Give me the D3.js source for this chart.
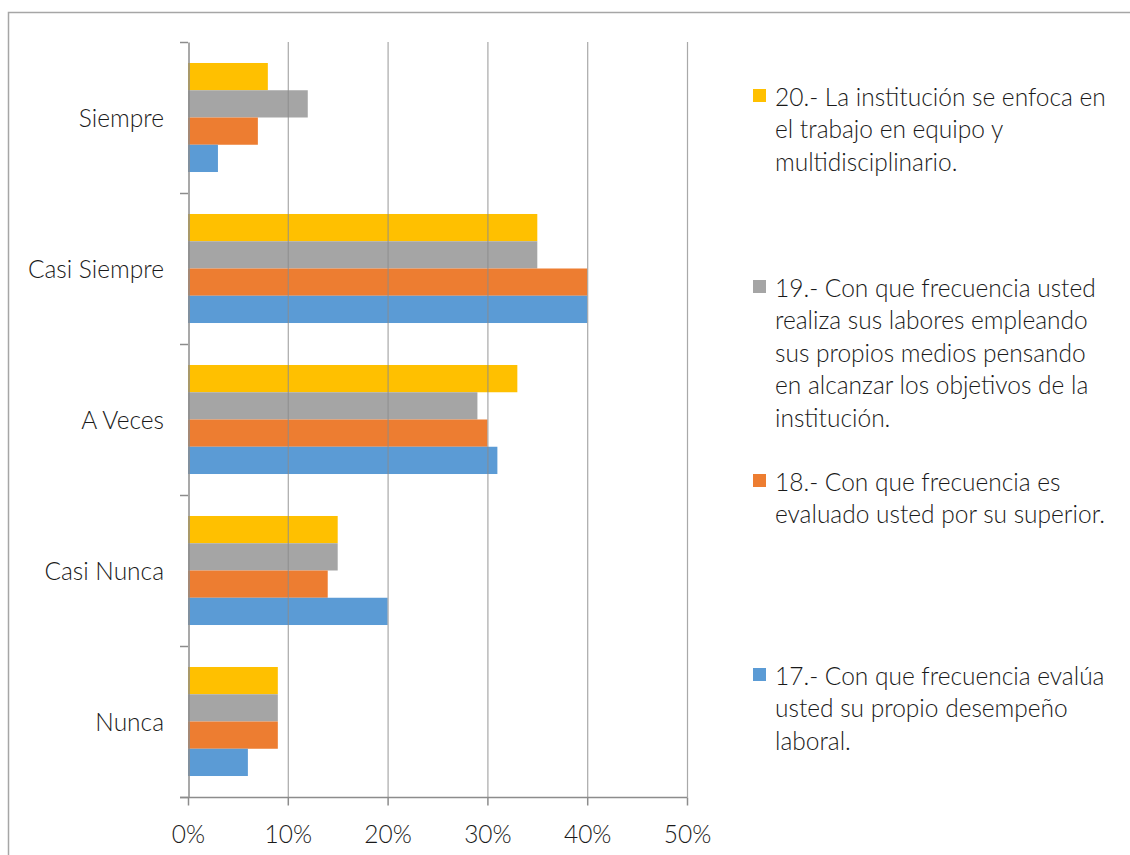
<!DOCTYPE html>
<html>
<head>
<meta charset="utf-8">
<script src="https://cdn.jsdelivr.net/npm/d3@7"></script>
<style>
  html, body { margin: 0; padding: 0; background: #fff; }
  svg { display: block; font-family: Lato, "Open Sans", sans-serif; font-weight: 300; }
</style>
</head>
<body>
<svg id="chart" width="1130" height="855"></svg>
<script>
// Response categories, from top to bottom
const categories = ["Siempre", "Casi Siempre", "A Veces", "Casi Nunca", "Nunca"];

// Survey questions (drawn top to bottom inside each category)
const seriesKeys = ["q20", "q19", "q18", "q17"];
const seriesLabels = [
  ["20.- La institución se enfoca en", "el trabajo en equipo y", "multidisciplinario."],
  ["19.- Con que frecuencia usted", "realiza sus labores empleando", "sus propios medios pensando", "en alcanzar los objetivos de la", "institución."],
  ["18.- Con que frecuencia es", "evaluado usted por su superior."],
  ["17.- Con que frecuencia evalúa", "usted su propio desempeño", "laboral."]
];
const seriesColors = ["#FFC000", "#A5A5A5", "#ED7D31", "#5B9BD5"];

// Percentages per category, one array per question
const q20 = [8, 35, 33, 15, 9];
const q19 = [12, 35, 29, 15, 9];
const q18 = [7, 40, 30, 14, 9];
const q17 = [3, 40, 31, 20, 6];

const xTicks = [0, 10, 20, 30, 40, 50];

const seriesValues = { q20, q19, q18, q17 };
const rows = categories.map((c, i) => ({
  category: c,
  values: seriesKeys.map(k => ({ key: k, value: seriesValues[k][i] }))
}));

const FONT_SIZE = 24.5;
const TEXT_COLOR = "#1a1a1a";

const svg = d3.select("#chart");
const color = d3.scaleOrdinal().domain(seriesKeys).range(seriesColors);

// Outer frame
svg.append("path")
  .attr("d", "M8.5,855 L8.5,12.5 L1130,12.5")
  .attr("fill", "none")
  .attr("stroke", "#a6a6a6")
  .attr("stroke-width", 1.5);

const plot = { left: 188, right: 687, top: 42, bottom: 797 };

const x = d3.scaleLinear().domain([0, 50]).range([plot.left, plot.right]);
const y = d3.scaleBand().domain(categories).range([plot.top, plot.bottom]).paddingInner(0.278).paddingOuter(0.139);
const yBand = d3.scaleBand().domain(categories).range([plot.top, plot.bottom]);
const ySub = d3.scaleBand().domain(seriesKeys).range([0, y.bandwidth()]);

// Bars
const groups = svg.append("g").selectAll("g")
  .data(rows).join("g")
  .attr("transform", d => `translate(0,${y(d.category)})`);

groups.selectAll("rect")
  .data(d => d.values).join("rect")
  .attr("x", x(0))
  .attr("y", d => ySub(d.key))
  .attr("width", d => x(d.value) - x(0))
  .attr("height", ySub.bandwidth())
  .attr("fill", d => color(d.key));

// Vertical gridlines (drawn over the bars, softly)
svg.append("g").selectAll("line")
  .data(xTicks.slice(1)).join("line")
  .attr("x1", d => x(d) + 0.5).attr("x2", d => x(d) + 0.5)
  .attr("y1", plot.top).attr("y2", plot.bottom)
  .attr("stroke", "#8c8c8c")
  .attr("stroke-opacity", 0.75)
  .attr("stroke-width", 1.2);

// Category axis
const yAxis = svg.append("g")
  .attr("transform", `translate(${plot.left + 0.5},0)`)
  .call(d3.axisLeft(yBand).tickSize(0).tickFormat(""));
yAxis.select(".domain").attr("stroke", "#8c8c8c").attr("stroke-width", 1.5);
const boundaries = categories.map(c => yBand(c)).concat([plot.bottom]);
svg.append("g").selectAll("line")
  .data(boundaries).join("line")
  .attr("x1", plot.left - 8).attr("x2", plot.left)
  .attr("y1", d => d + 0.5).attr("y2", d => d + 0.5)
  .attr("stroke", "#8c8c8c").attr("stroke-width", 1.5);

svg.append("g").selectAll("text")
  .data(categories).join("text")
  .attr("x", 164)
  .attr("y", d => yBand(d) + yBand.bandwidth() / 2)
  .attr("text-anchor", "end")
  .attr("dominant-baseline", "central")
  .attr("font-size", FONT_SIZE)
  .attr("fill", TEXT_COLOR)
  .text(d => d);

// Value axis
const xAxis = svg.append("g")
  .attr("transform", `translate(0,${plot.bottom + 0.5})`)
  .call(d3.axisBottom(x).tickValues(xTicks).tickSize(8).tickFormat(d => d + "%"));
xAxis.select(".domain").attr("d", `M${plot.left - 8},0H${plot.right + 0.5}`).attr("stroke", "#8c8c8c").attr("stroke-width", 1.5);
xAxis.selectAll(".tick line").attr("stroke", "#8c8c8c").attr("stroke-width", 1.5);
xAxis.selectAll(".tick text")
  .attr("y", 36)
  .attr("dy", 0)
  .attr("dominant-baseline", "central")
  .attr("font-size", FONT_SIZE)
  .attr("font-family", "Lato, 'Open Sans', sans-serif")
  .attr("font-weight", 300)
  .attr("fill", TEXT_COLOR);

// Legend
const legendTop = [96, 287, 481, 675];
const lineH = 32.5;
const legend = svg.append("g").selectAll("g")
  .data(seriesKeys).join("g")
  .attr("transform", (d, i) => `translate(753,${legendTop[i]})`);

legend.append("rect")
  .attr("x", 0).attr("y", -7)
  .attr("width", 13).attr("height", 13)
  .attr("fill", d => color(d));

legend.append("text")
  .attr("x", 22)
  .attr("font-size", FONT_SIZE)
  .attr("fill", TEXT_COLOR)
  .selectAll("tspan")
  .data((d, i) => seriesLabels[i]).join("tspan")
  .attr("x", 22)
  .attr("y", (d, j) => j * lineH)
  .attr("dominant-baseline", "central")
  .text(d => d);
</script>
</body>
</html>
